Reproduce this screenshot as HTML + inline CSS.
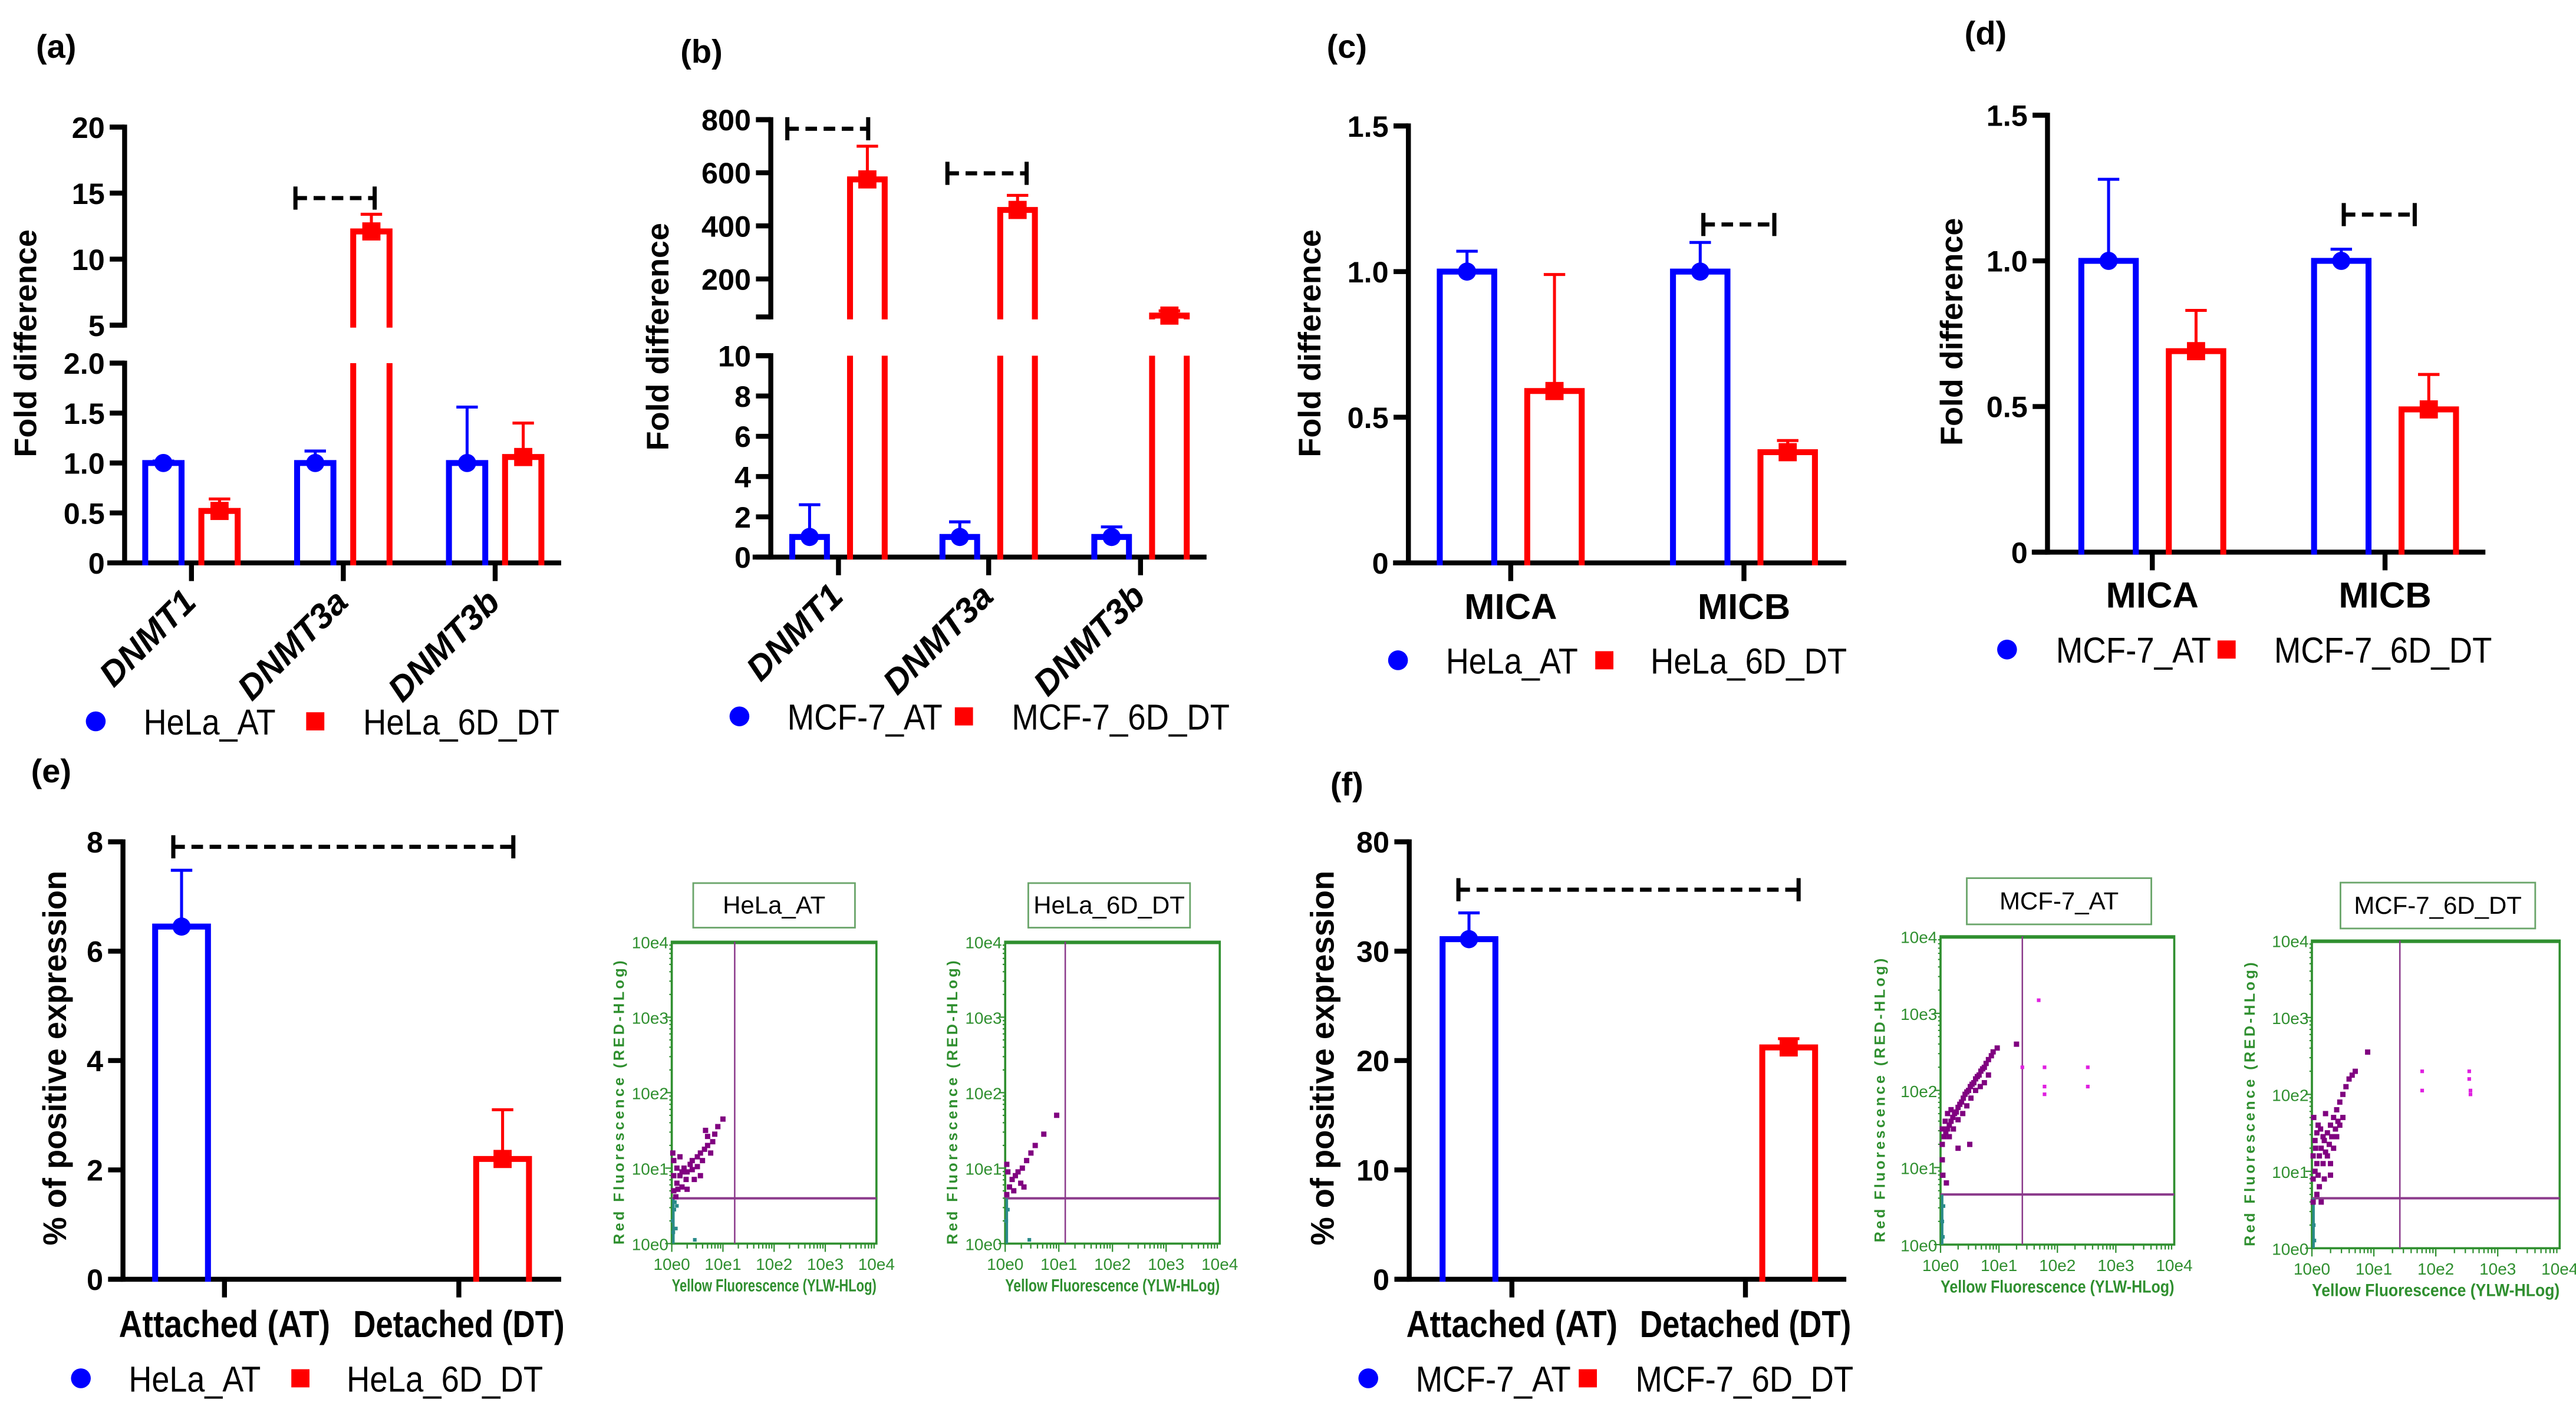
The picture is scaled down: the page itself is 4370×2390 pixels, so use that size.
<!DOCTYPE html>
<html><head><meta charset="utf-8"><style>
html,body{margin:0;padding:0;background:#fff;}
svg{display:block;}
</style></head><body>
<svg id="fig" xmlns="http://www.w3.org/2000/svg" width="4370" height="2390" viewBox="0 0 1560.7 853.6" preserveAspectRatio="none"></svg>
<script>
// ---------- DATA ----------
const aCategories=['DNMT1','DNMT3a','DNMT3b'];
const aAT=[1.0,1.0,1.0];
const aATerr=[1.02,1.12,1.56];
const aDT=[0.52,12.1,1.06];
const aDTerr=[0.64,13.4,1.4];
const aTickVals=[0,0.5,1.0,1.5,2.0,5,10,15,20];
const aTickLabels=['0','0.5','1.0','1.5','2.0','5','10','15','20'];

const bCategories=['DNMT1','DNMT3a','DNMT3b'];
const bAT=[1.0,1.0,1.0];
const bATerr=[2.6,1.75,1.5];
const bDT=[575,460,62];
const bDTerr=[700,515,80];
const bTickVals=[0,2,4,6,8,10,200,400,600,800];
const bTickLabels=['0','2','4','6','8','10','200','400','600','800'];

const cCategories=['MICA','MICB'];
const cAT=[1.0,1.0];
const cATerr=[1.07,1.1];
const cDT=[0.59,0.38];
const cDTerr=[0.99,0.42];
const cTickVals=[0,0.5,1.0,1.5];
const cTickLabels=['0','0.5','1.0','1.5'];

const dCategories=['MICA','MICB'];
const dAT=[1.0,1.0];
const dATerr=[1.28,1.04];
const dDT=[0.69,0.49];
const dDTerr=[0.83,0.61];
const dTickVals=[0,0.5,1.0,1.5];
const dTickLabels=['0','0.5','1.0','1.5'];

const eCategories=['Attached (AT)','Detached (DT)'];
const eValues=[6.45,2.2];
const eErr=[7.48,3.1];
const eTickVals=[0,2,4,6,8];
const eTickLabels=['0','2','4','6','8'];

const fCategories=['Attached (AT)','Detached (DT)'];
const fValues=[31.1,21.2];
const fErr=[33.5,22.0];
const fTickVals=[0,10,20,30,40];
const fTickLabels=['0','10','20','30','80'];

// flow cytometry points [log10 yellow, log10 red]
const flowHeLaATPurple=[[0.04,0.7],[0.1,0.8],[0.16,0.9],[0.2,0.75],[0.24,1.0],[0.3,0.95],[0.36,1.05],[0.4,1.1],[0.44,0.85],[0.5,1.15],[0.56,1.2],[0.6,1.1],[0.64,1.25],[0.7,1.3],[0.76,1.2],[0.8,1.35],[0.66,1.5],[0.9,1.55],[1.0,1.65],[0.1,1.0],[0.16,1.15],[0.04,0.9],[0.3,0.72],[0.56,0.9],[0.2,0.95],[0.08,0.62],[0.4,0.98],[0.5,1.02],[0.7,1.42],[0.84,1.45],[0.12,0.72],[0.28,0.85],[0.04,1.1],[0.02,1.2]];
const flowHeLaATTeal=[[0.02,0.3],[0.05,0.45],[0.08,0.2],[0.1,0.5],[0.45,0.05],[0.03,0.15],[0.06,0.55]];
const flowHeLaDTPurple=[[0.03,0.65],[0.08,0.75],[0.13,0.85],[0.16,0.7],[0.19,0.9],[0.24,0.95],[0.29,0.8],[0.32,1.0],[0.4,1.1],[0.48,1.2],[0.56,1.3],[0.72,1.45],[0.96,1.7],[0.05,0.95],[0.35,0.75],[0.03,1.05]];
const flowHeLaDTTeal=[[0.02,0.3],[0.05,0.45],[0.45,0.05]];
const flowMcfATPurple=[[0.03,1.3],[0.06,1.4],[0.09,1.45],[0.12,1.5],[0.15,1.55],[0.18,1.6],[0.21,1.65],[0.24,1.7],[0.27,1.72],[0.3,1.78],[0.33,1.82],[0.36,1.85],[0.39,1.9],[0.42,1.95],[0.45,1.98],[0.48,2.0],[0.51,2.05],[0.54,2.08],[0.57,2.1],[0.6,2.15],[0.63,2.18],[0.66,2.2],[0.69,2.25],[0.72,2.28],[0.75,2.3],[0.78,2.35],[0.82,2.4],[0.87,2.45],[0.9,2.5],[0.97,2.55],[0.03,1.5],[0.08,1.6],[0.15,1.4],[0.22,1.5],[0.3,1.62],[0.38,1.7],[0.45,1.8],[0.52,1.9],[0.6,2.0],[0.68,2.05],[0.12,1.7],[0.18,1.75],[0.75,2.1],[0.82,2.2],[0.03,1.1],[0.04,0.9],[0.1,0.8],[0.5,1.3],[0.3,1.25],[1.3,2.6]];
const flowMcfATMagenta=[[1.68,3.17],[1.4,2.3],[1.78,2.3],[1.78,2.05],[1.78,1.95],[2.52,2.3],[2.52,2.05]];
const flowMcfATTeal=[[0.03,0.3],[0.05,0.5],[0.04,0.1]];
const flowMcfDTPurple=[[0.02,0.9],[0.05,1.0],[0.08,1.1],[0.1,0.95],[0.12,1.2],[0.15,1.3],[0.18,1.1],[0.2,1.4],[0.22,1.25],[0.25,1.5],[0.28,1.35],[0.3,1.6],[0.32,1.45],[0.35,1.7],[0.38,1.55],[0.4,1.8],[0.42,1.65],[0.45,1.9],[0.5,2.0],[0.55,2.1],[0.6,2.2],[0.65,2.25],[0.7,2.3],[0.9,2.55],[0.02,1.2],[0.05,1.4],[0.08,1.5],[0.1,1.6],[0.03,1.7],[0.06,1.3],[0.14,1.55],[0.18,1.45],[0.25,1.2],[0.3,1.1],[0.12,0.8],[0.2,0.9],[0.35,1.3],[0.4,1.45],[0.45,1.6],[0.08,0.7],[0.15,0.6],[0.02,0.6],[0.5,1.7],[0.3,0.95],[0.22,1.75]];
const flowMcfDTMagenta=[[1.78,2.3],[1.78,2.05],[2.54,2.3],[2.54,2.2],[2.56,2.05],[2.56,2.0]];
const flowMcfDTTeal=[[0.03,0.3],[0.04,0.1]];

// ---------- HELPERS ----------
const NS='http://www.w3.org/2000/svg';
const svg=document.getElementById('fig');
const NARROW="'Liberation Sans Narrow','Liberation Sans',sans-serif";
const WIDE="'Liberation Sans',sans-serif";
const BLUE='#0000ff', RED='#ff0000';
function mk(tag,parent){const e=document.createElementNS(NS,tag);(parent||svg).appendChild(e);return e;}
function set(e,o){for(const k in o)e.setAttribute(k,o[k]);return e;}
function line(p,x1,y1,x2,y2,c,w){const l=mk('line',p);set(l,{x1,y1,x2,y2,stroke:c,'stroke-width':w});return l;}
function text(p,x,y,s,o){const t=mk('text',p);t.textContent=s;set(t,Object.assign({x,y},o));return t;}
function segScale(seg,v){return seg.y0+(v-seg.min)*(seg.y1-seg.y0)/(seg.max-seg.min);}
function yOf(segs,v){let s=segs[0];for(const g of segs){if(v>=g.min)s=g;}return segScale(s,Math.min(v,s.max));}

function drawAxes(g,L,tickVals,tickLabels){
  for(const seg of L.segs){
    line(g,L.ax,seg.y0+1.5,L.ax,seg.y1-1.5,'#000',3);
    line(g,L.ax-9,seg.y1,L.ax,seg.y1,'#000',3);
    if(seg.min>0) line(g,L.ax-9,seg.y0,L.ax,seg.y0,'#000',3);
  }
  tickVals.forEach((v,i)=>{
    const y=yOf(L.segs,v);
    line(g,L.ax-9,y,L.ax,y,'#000',3);
    const t=text(g,L.ax-12,y+6.5,tickLabels[i],{'font-family':NARROW,'font-weight':'bold','font-size':18,'text-anchor':'end'});
    
    
  });
  line(g,L.xs,L.base,L.xe,L.base,'#000',3);
  L.cat.forEach(cx=>{line(g,cx,L.base,cx,L.base+11,'#000',3);});
}
function drawBar(g,segs,cx,w,v,color){
  let d='';
  segs.forEach((seg,i)=>{
    if(i>0 && v<=seg.min) return;
    const yb=segScale(seg,seg.min), yt=segScale(seg,Math.min(v,seg.max));
    if(v<=seg.max) d+=`M${cx-w/2},${yb+1.5}V${yt}H${cx+w/2}V${yb+1.5}`;
    else d+=`M${cx-w/2},${yb+1.5}V${yt}M${cx+w/2},${yt}V${yb+1.5}`;
  });
  const p=mk('path',g);set(p,{d,fill:'none',stroke:color,'stroke-width':3.6});
  return p;
}
function drawErr(g,segs,cx,v,e,color){
  const y1=yOf(segs,v),y2=yOf(segs,e);
  line(g,cx,y1,cx,y2,color,1.8);
  line(g,cx-6.5,y2,cx+6.5,y2,color,1.8);
}
function marker(g,cx,cy,kind,size){
  let m;
  if(kind==='c'){m=mk('circle',g);set(m,{cx,cy,r:size||5.5,fill:BLUE});}
  else{const s=size||11;m=mk('rect',g);set(m,{x:cx-s/2,y:cy-s/2,width:s,height:s,fill:RED});}
  return m;
}
function bracket(g,x1,x2,y){
  const b=mk('g',g);
  
  
  line(b,x1,y-7,x1,y+7,'#000',2.5);
  line(b,x2,y-7,x2,y+7,'#000',2.5);
  const l=line(b,x1,y,x2,y,'#000',2.5);l.setAttribute('stroke-dasharray','7 4');
}
function yTitle(g,x,y,s,len,fs){
  const t=text(g,0,0,s,{'font-family':WIDE,'font-weight':'bold','font-size':fs||19,'text-anchor':'middle',transform:`translate(${x},${y}) rotate(-90)`,textLength:len,lengthAdjust:'spacingAndGlyphs'});
  
  
}
function panelLabel(x,y,s){
  const t=text(svg,x,y,s,{'font-family':NARROW,'font-size':20,'text-anchor':'middle','font-weight':'bold'});
  
  
}
function legend(g,y,cx1,tx1,len1,s1,cx2,tx2,len2,s2){
  const lg=mk('g',g);
  
  
  const m1=marker(lg,cx1,y,'c',6);
  
  
  const t1=text(lg,tx1,y+8,s1,{'font-family':NARROW,'font-size':22,textLength:len1,lengthAdjust:'spacingAndGlyphs'});
  
  
  const m2=marker(lg,cx2,y,'s',11);
  
  
  const t2=text(lg,tx2,y+8,s2,{'font-family':NARROW,'font-size':22,textLength:len2,lengthAdjust:'spacingAndGlyphs'});
  
  
}
function groupedPanel(name,L,cats,at,atE,dt,dtE,tv,tl,rotLabels){
  const g=mk('g');
  
  
  drawAxes(g,L,tv,tl);
  cats.forEach((c,i)=>{
    const cx=L.cat[i];
    const bx=cx-L.off, rx=cx+L.off;
    const b=drawBar(g,L.segs,bx,L.bw,at[i],BLUE);
    
    
    drawErr(g,L.segs,bx,at[i],atE[i],BLUE);
    marker(g,bx,yOf(L.segs,at[i]),'c');
    const r=drawBar(g,L.segs,rx,L.bw,dt[i],RED);
    
    
    drawErr(g,L.segs,rx,dt[i],dtE[i],RED);
    marker(g,rx,yOf(L.segs,dt[i]),'s');
    let t;
    if(rotLabels){
      t=text(g,0,0,c,{'font-family':WIDE,'font-weight':'bold','font-style':'italic','font-size':21,'text-anchor':'end',transform:`translate(${cx+4},${L.base+25}) rotate(-45)`});
    }else{
      t=text(g,cx,L.lab,c,{'font-family':NARROW,'font-weight':'bold','font-size':22,'text-anchor':'middle'});
    }
    
    
  });
  return g;
}
function singlePanel(name,L,cats,vals,errs,tv,tl){
  const g=mk('g');
  
  
  drawAxes(g,L,tv,tl);
  cats.forEach((c,i)=>{
    const bx=L.cat[i]+L.offs[i];
    const col=i===0?BLUE:RED;
    const b=drawBar(g,L.segs,bx,L.bw,vals[i],col);
    
    
    drawErr(g,L.segs,bx,vals[i],errs[i],col);
    marker(g,bx,yOf(L.segs,vals[i]),i===0?'c':'s');
    const t=text(g,L.cat[i],L.lab,c,{'font-family':NARROW,'font-weight':'bold','font-size':23,'text-anchor':'middle',textLength:128,lengthAdjust:'spacingAndGlyphs'});
    
    
  });
  return g;
}
const GREEN='#2f8f2f';
function flowPlot(name,P,title,purple,magenta,teal){
  const g=mk('g');
  
  
  const tb=mk('rect',g);set(tb,{x:P.tx,y:P.ty,width:P.tw,height:P.th,fill:'#fff',stroke:'#6aa56a','stroke-width':1});
  
  
  const tt=text(g,P.tx+P.tw/2,P.ty+P.th/2+5,title,{'font-family':NARROW,'font-size':15,'text-anchor':'middle'});
  
  
  const X=v=>P.x0+v*(P.x1-P.x0)/4, Y=v=>P.y1-v*(P.y1-P.y0)/4;
  const box=mk('rect',g);set(box,{x:P.x0,y:P.y0,width:P.x1-P.x0,height:P.y1-P.y0,fill:'none',stroke:GREEN,'stroke-width':1.3});
  line(g,P.x0,P.y0+1,P.x1,P.y0+1,GREEN,1);
  for(let d=0;d<4;d++){for(let k=1;k<=9;k++){const x=X(d+Math.log10(k));line(g,x,P.y1,x,P.y1+(k===1?5:3),GREEN,0.8);}
    for(let k=1;k<=9;k++){const y=Y(d+Math.log10(k));line(g,P.x0,y,P.x0-(k===1?4:1.5),y,GREEN,0.8);}}
  for(let d=0;d<=4;d++){
    const tx=text(g,X(d),P.y1+16,'10e'+d,{'font-family':NARROW,'font-size':10,'fill':GREEN,'text-anchor':'middle'});
    
    
    const ty=text(g,P.x0-2,Y(d)+4,'10e'+d,{'font-family':NARROW,'font-size':10,'fill':GREEN,'text-anchor':'end'});
    
    
  }
  const xt=text(g,(P.x0+P.x1)/2,P.y1+29,'Yellow Fluorescence (YLW-HLog)',{'font-family':NARROW,'font-weight':'bold','font-size':10.5,'fill':GREEN,'text-anchor':'middle',textLength:(P.x1-P.x0),lengthAdjust:'spacingAndGlyphs'});
  
  
  const yt=text(g,0,0,'Red Fluorescence (RED-HLog)',{'font-family':WIDE,'font-weight':'bold','font-size':9,'fill':GREEN,'text-anchor':'middle',transform:`translate(${P.ytx},${(P.y0+P.y1)/2+6}) rotate(-90)`,textLength:172,lengthAdjust:'spacing'});
  
  
  line(g,P.x0,Y(P.gy),P.x1,Y(P.gy),'#8b3a8b',1.4);
  line(g,X(P.gx),P.y0,X(P.gx),P.y1,'#8b3a8b',0.9);
  line(g,P.x0+1,P.y1,P.x0+1,Y(P.gy),'#2a8a8a',1.5);
  const dots=(arr,c,s)=>arr.forEach(p=>{const r=mk('rect',g);set(r,{x:X(p[0])-s/2,y:Y(p[1])-s/2,width:s,height:s,fill:c});
    
    });
  dots(teal,'#2a8a8a',2.2);
  dots(purple,'#800080',3.2);
  dots(magenta,'#e020e0',2.2);
}

// ---------- PANELS ----------
panelLabel(34,35,'(a)');
groupedPanel('panel-a-dnmt-hela',{ax:75.5,xs:65,xe:340,base:341,cat:[116,208,300],off:17,bw:22,
  segs:[{min:0,max:2,y0:341,y1:220},{min:5,max:20,y0:197,y1:77}]},aCategories,aAT,aATerr,aDT,aDTerr,aTickVals,aTickLabels,true);
bracket(svg,179,227,120);
yTitle(svg,22,208,'Fold difference',138);
legend(svg,437,58,87,80,'HeLa_AT',191,220,119,'HeLa_6D_DT');

panelLabel(425,38,'(b)');
groupedPanel('panel-b-dnmt-mcf7',{ax:467,xs:456,xe:731,base:337.5,cat:[508,599,691],off:17.5,bw:21,
  segs:[{min:0,max:10,y0:337.5,y1:215.5},{min:57,max:800,y0:192,y1:72.5}]},bCategories,bAT,bATerr,bDT,bDTerr,bTickVals,bTickLabels,true);
bracket(svg,477,526,78);
bracket(svg,574,622,105);
yTitle(svg,405,204,'Fold difference',138);
legend(svg,434,448,477,94,'MCF-7_AT',584,613,132,'MCF-7_6D_DT');

panelLabel(816,35,'(c)');
groupedPanel('panel-c-mic-hela',{ax:853.3,xs:844,xe:1118.6,base:341,cat:[915.3,1056.6],off:26.5,bw:33,lab:375,
  segs:[{min:0,max:1.5,y0:341,y1:76.3}]},cCategories,cAT,cATerr,cDT,cDTerr,cTickVals,cTickLabels,false);
bracket(svg,1032,1075,136);
yTitle(svg,800,208,'Fold difference',138);
legend(svg,400,847,876,80,'HeLa_AT',972,1000,119,'HeLa_6D_DT');

panelLabel(1203,27,'(d)');
groupedPanel('panel-d-mic-mcf7',{ax:1240.5,xs:1231,xe:1505.8,base:334.5,cat:[1304,1445],off:26.5,bw:33,lab:368,
  segs:[{min:0,max:1.5,y0:334.5,y1:69.8}]},dCategories,dAT,dATerr,dDT,dDTerr,dTickVals,dTickLabels,false);
bracket(svg,1420,1463,130);
yTitle(svg,1189,201,'Fold difference',138);
legend(svg,393.5,1216,1245.6,94,'MCF-7_AT',1349,1377.8,132,'MCF-7_6D_DT');

panelLabel(31,474,'(e)');
singlePanel('panel-e-hela-expression',{ax:74.5,xs:65.5,xe:340,base:775,cat:[136,278],offs:[-26,26.5],bw:32,lab:810,
  segs:[{min:0,max:8,y0:775,y1:510}]},eCategories,eValues,eErr,eTickVals,eTickLabels);
bracket(svg,105,311,513);
yTitle(svg,40,641,'% of positive expression',227,20);
legend(svg,835,49,78,80,'HeLa_AT',182,210,119,'HeLa_6D_DT');

panelLabel(816,482,'(f)');
singlePanel('panel-f-mcf7-expression',{ax:853.8,xs:845,xe:1118.6,base:775,cat:[916,1057.5],offs:[-26,26.2],bw:32,lab:810,
  segs:[{min:0,max:40,y0:775,y1:510}]},fCategories,fValues,fErr,fTickVals,fTickLabels);
bracket(svg,883.6,1089.7,539);
yTitle(svg,808,641,'% of positive expression',227,20);
legend(svg,835,829,857.7,94,'MCF-7_AT',962,990.9,132,'MCF-7_6D_DT');

flowPlot('flow-hela-at',{tx:420,ty:535,tw:98,th:27,x0:407,x1:531,y0:570.5,y1:753.4,ytx:378,gx:1.23,gy:0.6},'HeLa_AT',flowHeLaATPurple,[],flowHeLaATTeal);
flowPlot('flow-hela-6d-dt',{tx:623,ty:535,tw:98,th:27,x0:609,x1:739,y0:570.5,y1:753.4,ytx:580,gx:1.12,gy:0.6},'HeLa_6D_DT',flowHeLaDTPurple,[],flowHeLaDTTeal);
flowPlot('flow-mcf7-at',{tx:1191.6,ty:532,tw:111.8,th:28,x0:1175.7,x1:1317.3,y0:567.2,y1:754,ytx:1142,gx:1.4,gy:0.65},'MCF-7_AT',flowMcfATPurple,flowMcfATMagenta,flowMcfATTeal);
flowPlot('flow-mcf7-6d-dt',{tx:1418,ty:534.7,tw:118,th:27.8,x0:1400.7,x1:1550.8,y0:569.8,y1:756.2,ytx:1366,gx:1.42,gy:0.65},'MCF-7_6D_DT',flowMcfDTPurple,flowMcfDTMagenta,flowMcfDTTeal);
</script>
</body></html>
